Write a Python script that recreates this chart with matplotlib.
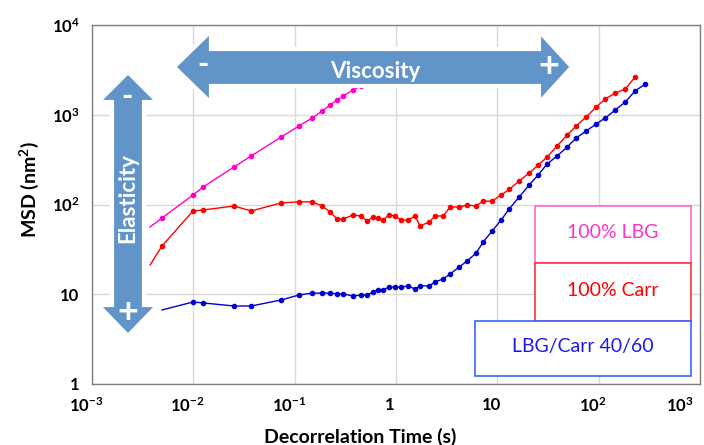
import numpy as np
import matplotlib

matplotlib.use("Agg")
import matplotlib.pyplot as plt
import matplotlib.transforms as mtrans
from matplotlib.patches import Polygon, Rectangle

plt.rcParams["font.family"] = ["Lato", "DejaVu Sans"]
plt.rcParams["mathtext.fontset"] = "custom"
plt.rcParams["mathtext.rm"] = "Lato"
plt.rcParams["mathtext.bf"] = "Lato:bold"

# decorrelation times (s), shared by the three samples
time_s = [0.00374, 0.00491, 0.00993, 0.0125, 0.0252, 0.0372, 0.0735, 0.110, 0.149, 0.187,
          0.224, 0.262, 0.301, 0.377, 0.452, 0.519, 0.594, 0.666, 0.746, 0.855,
          0.980, 1.12, 1.32, 1.54, 1.73, 2.12, 2.43, 2.92, 3.42, 4.20,
          5.04, 6.18, 7.25, 8.89, 10.9, 13.1, 16.4, 20.6, 25.3, 31.0,
          38.9, 48.9, 60.0, 75.3, 94.5, 116, 146, 183, 229, 288]

msd_lbg = [56.1, 70.8, 127.6, 156.7, 262, 347, 565, 749, 920, 1101,
           1284, 1460, 1618, 1888, 2091]

msd_carr = [21.2, 34.5, 84.7, 86.9, 96.2, 84.7, 104, 107, 107, 96.2,
            82.4, 68.9, 68.9, 76.4, 74.5, 65.5, 72.6, 70.8, 67.2, 76.4,
            74.5, 67.2, 67.2, 74.5, 57.6, 63.8, 74.5, 74.5, 93.8, 93.8,
            98.7, 96.2, 109, 109, 128, 147, 183, 224, 275, 338,
            449, 595, 750, 944, 1220, 1497, 1748, 1936, 2634]

msd_blend = [6.68, 8.20, 8.00, 7.40, 7.40, 8.63, 9.81, 10.3, 10.3, 10.3,
             10.1, 10.1, 9.55, 9.81, 9.81, 10.6, 11.2, 11.2, 12.0, 12.0,
             12.0, 12.4, 11.4, 12.4, 12.4, 13.7, 14.8, 16.8, 20.1, 23.5,
             28.8, 38.2, 50.7, 67.2, 89.1, 121, 165, 213, 283, 347,
             437, 551, 659, 789, 920, 1130, 1387, 1841, 2203]

x_ticks = [1e-3, 1e-2, 1e-1, 1, 10, 1e2, 1e3]
x_labels = [r"$\mathbf{10^{-3}}$", r"$\mathbf{10^{-2}}$", r"$\mathbf{10^{-1}}$", "1", "10",
            r"$\mathbf{10^{2}}$", r"$\mathbf{10^{3}}$"]
y_ticks = [1, 10, 1e2, 1e3, 1e4]
y_labels = ["1", "10", r"$\mathbf{10^{2}}$", r"$\mathbf{10^{3}}$", r"$\mathbf{10^{4}}$"]

series_names = ["100% LBG", "100% Carr", "LBG/Carr 40/60"]

W, H = 704, 445
fig = plt.figure(figsize=(W / 100, H / 100), dpi=100)
ax = fig.add_axes([92 / W, 1 - 384 / H, 608 / W, 359 / H])


def px(x, y):
    """pixel position (from top-left) to figure fraction"""
    return (x / W, 1 - y / H)


t = np.array(time_s)
ax.plot(t[:len(msd_lbg)], msd_lbg, color="#FF00CC", lw=1.0, marker="o", ms=3,
        markevery=slice(1, None))
ax.plot(t[:len(msd_carr)], msd_carr, color="#FF0000", lw=1.0, marker="o", ms=3,
        markevery=slice(1, None))
ax.plot(t[1:1 + len(msd_blend)], msd_blend, color="#0000CC", lw=1.0, marker="o", ms=3,
        markevery=slice(1, None))

ax.set_xscale("log")
ax.set_yscale("log")
ax.set_xlim(1e-3, 1e3)
ax.set_ylim(1, 1e4)
ax.minorticks_off()
ax.set_xticks(x_ticks)
ax.set_xticklabels(x_labels, fontsize=12, fontweight="bold")
ax.set_yticks(y_ticks)
ax.set_yticklabels(y_labels, fontsize=12, fontweight="bold")
ax.tick_params(length=0, pad=9)
ax.grid(True, color="#D9D9D9", lw=1)
ax.set_axisbelow(True)
for sp in ax.spines.values():
    sp.set_color("#7F7F7F")
    sp.set_linewidth(1)

# shift the x tick labels a bit left, like the original; last one kept inside the figure
shift = mtrans.ScaledTranslation(-6 / 100, 0, fig.dpi_scale_trans)
for lab in ax.get_xticklabels():
    lab.set_transform(lab.get_transform() + shift)
ax.get_xticklabels()[-1].set_horizontalalignment("right")

fig.text(*px(29, 190), r"MSD (nm$^{\mathbf{2}}$)", rotation=90, fontsize=14,
         fontweight="bold", ha="center", va="center")
fig.text(*px(360, 437), "Decorrelation Time (s)", fontsize=14, fontweight="bold",
         ha="center", va="center")

# arrows
arrow_col = "#6195C9"
vert = [(128, 72), (158, 102), (144, 102), (144, 305), (158, 305), (128, 336),
        (98, 305), (112, 305), (112, 102), (98, 102)]
horiz = [(174, 67), (211, 31), (211, 49), (539, 49), (539, 31), (572, 67),
         (539, 103), (539, 86), (211, 86), (211, 103)]
for shape in (vert, horiz):
    fig.add_artist(Polygon([px(x, y) for x, y in shape], closed=True,
                           facecolor=arrow_col, edgecolor="white", lw=3,
                           transform=fig.transFigure, zorder=5))

fig.text(*px(128, 198), "Elasticity", rotation=90, color="white", fontsize=16,
         fontweight="bold", ha="center", va="center", zorder=6)
fig.text(*px(375, 72), "Viscosity", color="white", fontsize=16,
         fontweight="bold", ha="center", va="center", zorder=6)
fig.text(*px(127, 97), "-", color="white", fontsize=22, fontweight="black",
         ha="center", va="center", zorder=6)
fig.text(*px(128, 312), "+", color="white", fontsize=26, fontweight="bold",
         ha="center", va="center", zorder=6)
fig.text(*px(203, 65), "-", color="white", fontsize=22, fontweight="black",
         ha="center", va="center", zorder=6)
fig.text(*px(549, 66), "+", color="white", fontsize=26, fontweight="bold",
         ha="center", va="center", zorder=6)

# legend boxes
boxes = [(535, 206, 691, 263, "#FF66CC", "#FF33CC"),
         (535, 263, 691, 321, "#FF3333", "#FF0000"),
         (475, 321, 691, 376, "#3366FF", "#1A1AEE")]
for name, (x0, y0, x1, y1, ec, tc) in zip(series_names, boxes):
    fig.add_artist(Rectangle(px(x0, y1), (x1 - x0) / W, (y1 - y0) / H,
                             facecolor="white", edgecolor=ec, lw=1.2,
                             transform=fig.transFigure, zorder=4))
    fig.text(*px((x0 + x1) / 2, (y0 + y1) / 2 - 2), name, color=tc, fontsize=14,
             ha="center", va="center", zorder=6)

fig.savefig("out.png", dpi=100)
